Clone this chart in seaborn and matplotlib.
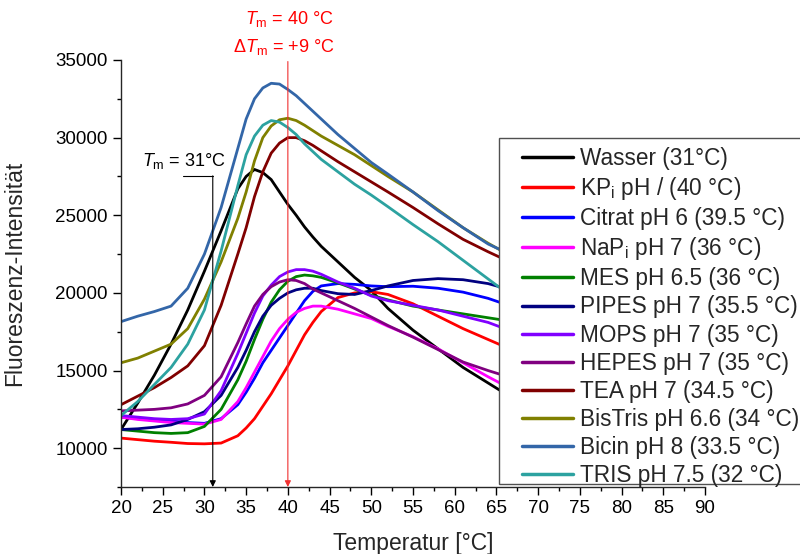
import numpy as np
import pandas as pd
import matplotlib
matplotlib.use("Agg")
import matplotlib.pyplot as plt
from matplotlib.ticker import MultipleLocator
from matplotlib.patches import Rectangle
import seaborn as sns

# ── Data ──────────────────────────────────────────────────────────────────────
TEMP = [20, 22, 24, 26, 28, 30, 32, 34, 35, 36, 37, 38, 39, 40, 41, 42, 43, 44,
        46, 48, 50, 52, 55, 58, 61, 64, 67]

wasser  = [11200, 12900, 14700, 16700, 18900, 21400, 24000, 26700, 27500, 27950, 27750, 27300, 26500, 25700, 25000, 24250, 23600, 23000,
           22000, 21000, 20150, 19000, 17600, 16400, 15200, 14200, 13200]
kpi     = [10650, 10550, 10450, 10380, 10300, 10280, 10330, 10800, 11300, 11900, 12700, 13500, 14400, 15300, 16300, 17300, 18100, 18800,
           19700, 20000, 20080, 19900, 19300, 18500, 17700, 17000, 16300]
citrat  = [12000, 11900, 11800, 11750, 11650, 11600, 11900, 12800, 13600, 14500, 15500, 16300, 17100, 17900, 18700, 19500, 20100, 20450,
           20600, 20550, 20450, 20400, 20430, 20300, 20050, 19650, 19100]
napi    = [12000, 11850, 11750, 11650, 11600, 11550, 11850, 13000, 13900, 14900, 15900, 16900, 17700, 18300, 18750, 19000, 19150, 19150,
           18950, 18650, 18350, 17850, 17180, 16400, 15500, 14600, 13750]
mes     = [11200, 11100, 11000, 10950, 11000, 11400, 12500, 14400, 15600, 17000, 18300, 19400, 20200, 20750, 21050, 21150, 21100, 21000,
           20650, 20250, 19850, 19550, 19150, 18900, 18650, 18400, 18150]
pipes   = [11200, 11250, 11350, 11500, 11850, 12350, 13400, 15200, 16300, 17500, 18500, 19200, 19650, 20000, 20200, 20300, 20300, 20150,
           19950, 19900, 20150, 20450, 20800, 20920, 20850, 20600, 20150]
mops    = [12100, 12000, 11900, 11850, 11900, 12200, 13700, 16100, 17400, 18700, 19800, 20500, 21050, 21350, 21500, 21500, 21400, 21200,
           20700, 20300, 19800, 19500, 19200, 18900, 18500, 18100, 17500]
hepes   = [12400, 12450, 12500, 12600, 12850, 13400, 14600, 16800, 18000, 19150, 19900, 20400, 20700, 20850, 20800, 20600, 20250, 20000,
           19500, 19000, 18450, 17900, 17150, 16350, 15550, 15000, 14500]
tea     = [12800, 13350, 13900, 14550, 15300, 16600, 19200, 22500, 24200, 26200, 27800, 29000, 29650, 30000, 30000, 29800, 29500, 29150,
           28450, 27800, 27150, 26500, 25500, 24450, 23450, 22650, 21900]
bistris = [15500, 15800, 16250, 16700, 17700, 19600, 22000, 24800, 26500, 28500, 30000, 30750, 31150, 31250, 31100, 30800, 30450, 30100,
           29500, 28900, 28200, 27500, 26500, 25350, 24200, 23200, 22300]
bicin   = [18150, 18500, 18800, 19150, 20300, 22500, 25500, 29300, 31200, 32500, 33200, 33500, 33450, 33100, 32700, 32200, 31700, 31200,
           30200, 29300, 28400, 27650, 26500, 25300, 24200, 23150, 22400]
tris    = [12100, 13000, 14100, 15200, 16700, 18900, 22700, 26900, 28900, 30100, 30800, 31100, 31000, 30650, 30200, 29600, 29100, 28600,
           27800, 27000, 26300, 25550, 24400, 23300, 22100, 20900, 19700]

LABELS = ["Wasser (31°C)",
          r"KP$_\mathrm{i}$ pH / (40 °C)",
          "Citrat pH 6 (39.5 °C)",
          r"NaP$_\mathrm{i}$ pH 7 (36 °C)",
          "MES pH 6.5 (36 °C)",
          "PIPES pH 7 (35.5 °C)",
          "MOPS pH 7 (35 °C)",
          "HEPES pH 7 (35 °C)",
          "TEA pH 7 (34.5 °C)",
          "BisTris pH 6.6 (34 °C)",
          "Bicin pH 8 (33.5 °C)",
          "TRIS pH 7.5 (32 °C)"]
SERIES = [wasser, kpi, citrat, napi, mes, pipes, mops, hepes, tea, bistris, bicin, tris]
COLORS = ["#000000", "#FF0000", "#0000FF", "#FF00FF", "#008000", "#000080",
          "#8000FF", "#800080", "#800000", "#808000", "#3366A8", "#2CA2A0"]

TM_WATER = 31
TM_KPI = 40

df = pd.concat([pd.DataFrame({"Temperatur": TEMP, "Intensitaet": vals, "Puffer": lab})
                for lab, vals in zip(LABELS, SERIES)], ignore_index=True)

# ── Style ─────────────────────────────────────────────────────────────────────
sns.set_theme(style="ticks")
plt.rcParams.update({
    "font.family": ["Liberation Sans", "DejaVu Sans"],
    "mathtext.fontset": "custom",
    "mathtext.rm": "Liberation Sans",
    "mathtext.it": "Liberation Sans:italic",
    "axes.linewidth": 1.0,
    "xtick.direction": "out",
    "ytick.direction": "out",
})

fig = plt.figure(figsize=(8.0, 5.54), dpi=100)
ax = fig.add_axes([121 / 800, 1 - 487 / 554, 584 / 800, 427 / 554])

sns.lineplot(data=df, x="Temperatur", y="Intensitaet", hue="Puffer",
             hue_order=LABELS, palette=COLORS, linewidth=2.0, ax=ax,
             sort=False, estimator=None)

ax.set_xlim(20, 90)
ax.set_ylim(7500, 35000)
ax.xaxis.set_major_locator(MultipleLocator(5))
ax.xaxis.set_minor_locator(MultipleLocator(2.5))
ax.yaxis.set_major_locator(MultipleLocator(5000))
ax.yaxis.set_minor_locator(MultipleLocator(2500))
ax.tick_params(which="major", length=6, width=1.0, labelsize=13.5, colors="black")
ax.tick_params(which="minor", length=3, width=1.0, colors="black")
for s in ["top", "right"]:
    ax.spines[s].set_visible(False)

ax.set_xlabel("Temperatur [°C]", fontsize=16.5)
ax.set_ylabel("Fluoreszenz-Intensität", fontsize=16.5)
ax.xaxis.set_label_coords(0.5, (487 - 532) / 427)
ax.yaxis.set_label_coords((26 - 121) / 584, 0.5)

# ── Annotations ───────────────────────────────────────────────────────────────
ax.plot([27.4, TM_WATER], [27540, 27540], color="black", lw=0.8)
ax.annotate("", xy=(TM_WATER, 7500), xytext=(TM_WATER, 27540),
            arrowprops=dict(arrowstyle="-|>", color="black", lw=0.8,
                            mutation_scale=9, shrinkA=0, shrinkB=0))
ax.text(27.6, 28500, r"$T_\mathrm{m}$ = 31°C", ha="center", va="center",
        fontsize=13, color="black")

ax.annotate("", xy=(TM_KPI, 7500), xytext=(TM_KPI, 34900),
            arrowprops=dict(arrowstyle="-|>", color="#F03030", lw=0.8,
                            mutation_scale=9, shrinkA=0, shrinkB=0),
            annotation_clip=False)
fig.text(334 / 800, 1 - 19 / 554, r"$T_\mathrm{m}$ = 40 °C", ha="right",
         va="center", fontsize=13, color="red")
fig.text(334 / 800, 1 - 47 / 554, r"$\Delta T_\mathrm{m}$ = +9 °C", ha="right",
         va="center", fontsize=13, color="red")

# ── Legend (opaque box reaching past the right edge) ──────────────────────────
box = Rectangle((499 / 800, 1 - 484 / 554), 330 / 800, 346 / 554,
                transform=fig.transFigure, facecolor="white",
                edgecolor="#505050", linewidth=1.0, zorder=4.5, clip_on=False)
ax.add_artist(box)

handles, labels = ax.get_legend_handles_labels()
for h in handles:
    h.set_linewidth(2.5)
leg = ax.legend(handles, labels, loc="upper left",
                bbox_to_anchor=(522 / 800, 1 - 147 / 554),
                bbox_transform=fig.transFigure, fontsize=16.3,
                frameon=False, borderpad=0, handlelength=2.25,
                handletextpad=0.32, labelspacing=0.225, borderaxespad=0)
leg.set_zorder(5)

fig.savefig("out.png", dpi=100, facecolor="white")
